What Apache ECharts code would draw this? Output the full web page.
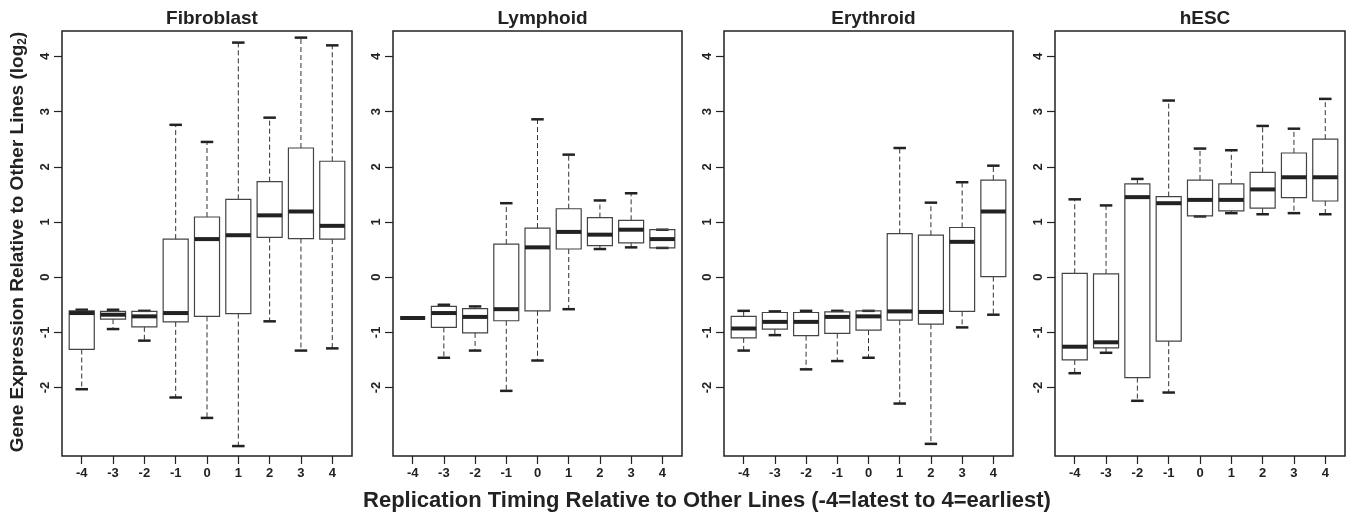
<!DOCTYPE html>
<html>
<head>
<meta charset="utf-8">
<script src="https://cdn.jsdelivr.net/npm/echarts@6/dist/echarts.min.js"></script>
<style>
  html, body { margin: 0; padding: 0; background: #fff; }
  #chart { width: 1355px; height: 519px; }
</style>
</head>
<body>
<div id="chart"></div>
<script>
// replication timing bins (-4 = latest, 4 = earliest)
const timing = [-4, -3, -2, -1, 0, 1, 2, 3, 4];
const timingLabels = ["-4", "-3", "-2", "-1", "0", "1", "2", "3", "4"];
const yTicks = [-2, -1, 0, 1, 2, 3, 4];
const panelNames = ["Fibroblast", "Lymphoid", "Erythroid", "hESC"];

// [lower whisker, Q1, median, Q3, upper whisker] for each timing bin
const fibroblast = [
  [-2.03, -1.31, -0.65, -0.61, -0.59],
  [-0.94, -0.76, -0.68, -0.62, -0.59],
  [-1.15, -0.90, -0.71, -0.62, -0.61],
  [-2.18, -0.81, -0.65, 0.69, 2.76],
  [-2.55, -0.71, 0.69, 1.09, 2.45],
  [-3.06, -0.66, 0.76, 1.41, 4.25],
  [-0.80, 0.72, 1.12, 1.73, 2.89],
  [-1.33, 0.70, 1.19, 2.34, 4.34],
  [-1.29, 0.69, 0.93, 2.10, 4.20]
];
const lymphoid = [
  [-0.74, -0.74, -0.74, -0.74, -0.74],
  [-1.46, -0.91, -0.65, -0.53, -0.50],
  [-1.33, -1.01, -0.72, -0.57, -0.53],
  [-2.06, -0.79, -0.58, 0.60, 1.34],
  [-1.51, -0.61, 0.54, 0.89, 2.86],
  [-0.58, 0.51, 0.82, 1.24, 2.22],
  [0.51, 0.57, 0.77, 1.08, 1.39],
  [0.54, 0.62, 0.86, 1.03, 1.52],
  [0.53, 0.53, 0.69, 0.86, 0.86]
];
const erythroid = [
  [-1.33, -1.10, -0.93, -0.71, -0.61],
  [-1.05, -0.94, -0.81, -0.64, -0.62],
  [-1.67, -1.06, -0.81, -0.64, -0.61],
  [-1.52, -1.02, -0.72, -0.63, -0.61],
  [-1.46, -0.96, -0.71, -0.61, -0.61],
  [-2.29, -0.78, -0.62, 0.79, 2.34],
  [-3.02, -0.85, -0.63, 0.76, 1.35],
  [-0.91, -0.62, 0.64, 0.90, 1.72],
  [-0.68, 0.01, 1.19, 1.76, 2.02]
];
const hesc = [
  [-1.74, -1.50, -1.26, 0.07, 1.41],
  [-1.37, -1.28, -1.18, 0.06, 1.30],
  [-2.24, -1.82, 1.45, 1.69, 1.78],
  [-2.09, -1.16, 1.34, 1.46, 3.20],
  [1.10, 1.11, 1.40, 1.76, 2.33],
  [1.16, 1.20, 1.40, 1.69, 2.30],
  [1.14, 1.25, 1.59, 1.90, 2.74],
  [1.16, 1.44, 1.81, 2.25, 2.69],
  [1.14, 1.38, 1.81, 2.50, 3.23]
];

const panels = [fibroblast, lymphoid, erythroid, hesc];
const gridLefts = [62, 393, 724, 1055];
const gridWidths = [290, 289, 289, 290];
const FONT = "Liberation Sans, Arial, Helvetica, sans-serif";
const INK = "#222";

// R-style boxplot: dashed whiskers, staples, open box, thick median
function renderBox(params, api) {
  const x = api.value(0);
  const lo = api.coord([x, api.value(1)]);
  const q1 = api.coord([x, api.value(2)]);
  const med = api.coord([x, api.value(3)]);
  const q3 = api.coord([x, api.value(4)]);
  const hi = api.coord([x, api.value(5)]);
  const half = api.size([0.8, 0])[0] / 2;
  const cap = api.size([0.4, 0])[0] / 2;
  const cx = q1[0];
  const dashed = { stroke: "#333", lineWidth: 1, lineDash: [5, 3] };
  const staple = { stroke: INK, lineWidth: 2.5 };
  return {
    type: "group",
    children: [
      { type: "line", shape: { x1: cx, y1: q3[1], x2: cx, y2: hi[1] }, style: dashed },
      { type: "line", shape: { x1: cx, y1: q1[1], x2: cx, y2: lo[1] }, style: dashed },
      { type: "line", shape: { x1: cx - cap, y1: hi[1], x2: cx + cap, y2: hi[1] }, style: staple },
      { type: "line", shape: { x1: cx - cap, y1: lo[1], x2: cx + cap, y2: lo[1] }, style: staple },
      {
        type: "rect",
        shape: { x: cx - half, y: q3[1], width: half * 2, height: q1[1] - q3[1] },
        style: { fill: "none", stroke: "#444", lineWidth: 1.2 }
      },
      { type: "line", shape: { x1: cx - half, y1: med[1], x2: cx + half, y2: med[1] }, style: { stroke: INK, lineWidth: 4 } }
    ]
  };
}

const grid = [], xAxis = [], yAxis = [], series = [], title = [];
panels.forEach((stats, k) => {
  grid.push({
    left: gridLefts[k], top: 31, width: gridWidths[k], height: 425,
    show: true, borderColor: INK, borderWidth: 1.5, backgroundColor: "transparent"
  });
  title.push({
    text: panelNames[k],
    left: gridLefts[k] + gridWidths[k] / 2,
    top: 4,
    textAlign: "center",
    textStyle: { fontFamily: FONT, fontSize: 19, fontWeight: "bold", color: INK }
  });
  xAxis.push({
    type: "value", gridIndex: k, min: -4.63, max: 4.63, position: "bottom",
    splitLine: { show: false },
    axisLine: { show: false, onZero: false },
    axisTick: { show: true, length: 8, customValues: timing, lineStyle: { color: INK, width: 1.2 } },
    axisLabel: {
      customValues: timing, margin: 11, color: INK,
      fontFamily: FONT, fontSize: 13, fontWeight: "bold",
      formatter: v => timingLabels[timing.indexOf(v)]
    }
  });
  yAxis.push({
    type: "value", gridIndex: k, min: -3.24, max: 4.46, position: "left",
    splitLine: { show: false },
    axisLine: { show: false, onZero: false },
    axisTick: { show: true, length: 8, customValues: yTicks, lineStyle: { color: INK, width: 1.2 } },
    axisLabel: {
      customValues: yTicks, margin: 10, rotate: 90, color: INK,
      fontFamily: FONT, fontSize: 13, fontWeight: "bold"
    }
  });
  series.push({
    type: "custom", xAxisIndex: k, yAxisIndex: k,
    renderItem: renderBox,
    encode: { x: 0, y: [1, 2, 3, 4, 5] },
    data: timing.map((t, i) => [t].concat(stats[i])),
    silent: true
  });
});

const myChart = echarts.init(document.getElementById("chart"), null, { renderer: "canvas" });
myChart.setOption({
  animation: false,
  backgroundColor: "#fff",
  title: title,
  grid: grid,
  xAxis: xAxis,
  yAxis: yAxis,
  series: series,
  graphic: [
    {
      type: "text", x: 18, y: 242, rotation: Math.PI / 2,
      style: {
        text: "{a|Gene Expression Relative to Other Lines (log}{s|2}{a|)}",
        align: "center", verticalAlign: "middle",
        rich: {
          a: { fontFamily: FONT, fontSize: 19, fontWeight: "bold", fill: INK, lineHeight: 22 },
          s: { fontFamily: FONT, fontSize: 12, fontWeight: "bold", fill: INK, lineHeight: 13, verticalAlign: "bottom", padding: [6, 0, 0, 0] }
        }
      }
    },
    {
      type: "text", x: 707, y: 501,
      style: {
        text: "Replication Timing Relative to Other Lines (-4=latest to 4=earliest)",
        align: "center", verticalAlign: "middle",
        fontFamily: FONT, fontSize: 22, fontWeight: "bold", fill: INK
      }
    }
  ]
});
</script>
</body>
</html>
